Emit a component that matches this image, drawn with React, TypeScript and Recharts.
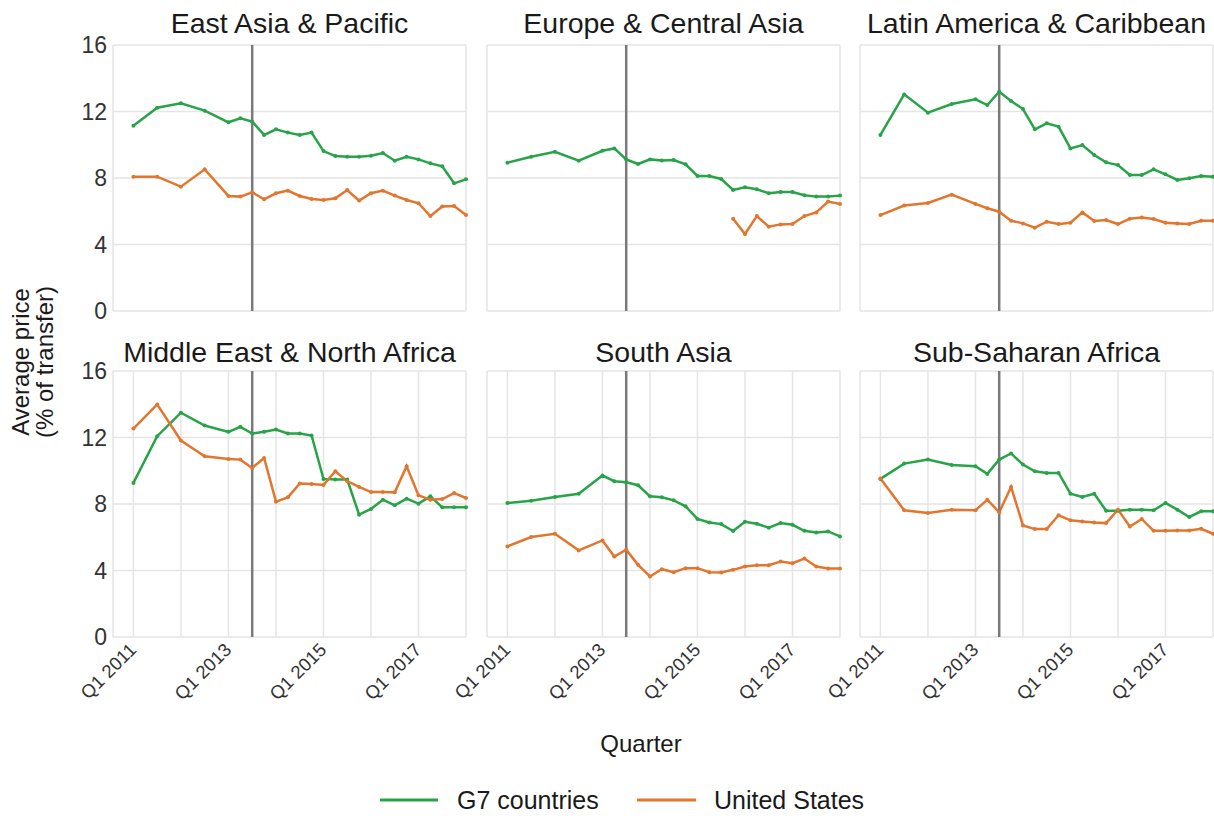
import { LineChart, Line, XAxis, YAxis, CartesianGrid, ReferenceLine } from 'recharts';

// quarters observed (half-yearly until 2013, then quarterly)
const quarters = [
  '2011 Q1', '2011 Q3', '2012 Q1', '2012 Q3', '2013 Q1', '2013 Q2', '2013 Q3', '2013 Q4',
  '2014 Q1', '2014 Q2', '2014 Q3', '2014 Q4', '2015 Q1', '2015 Q2', '2015 Q3', '2015 Q4',
  '2016 Q1', '2016 Q2', '2016 Q3', '2016 Q4', '2017 Q1', '2017 Q2', '2017 Q3', '2017 Q4',
  '2018 Q1',
];

const yearTicks = ['2011 Q1', '2012 Q1', '2013 Q1', '2014 Q1', '2015 Q1', '2016 Q1', '2017 Q1', '2018 Q1'];
const labelledYears = ['2011', '2013', '2015', '2017'];
const yTicks = [0, 4, 8, 12, 16];
const markerQuarter = '2013 Q3';

const regions = [
  'East Asia & Pacific', 'Europe & Central Asia', 'Latin America & Caribbean',
  'Middle East & North Africa', 'South Asia', 'Sub-Saharan Africa',
];

const g7EastAsia = [11.15, 12.23, 12.49, 12.05, 11.35, 11.59, 11.39, 10.59, 10.93, 10.73, 10.59, 10.73, 9.62, 9.32, 9.28, 9.28, 9.34, 9.5, 9.04, 9.28, 9.12, 8.88, 8.7, 7.68, 7.92];
const usEastAsia = [8.08, 8.08, 7.48, 8.52, 6.92, 6.88, 7.14, 6.72, 7.08, 7.24, 6.92, 6.74, 6.68, 6.78, 7.28, 6.64, 7.08, 7.24, 6.94, 6.68, 6.48, 5.71, 6.28, 6.32, 5.77];

const g7Europe = [8.92, 9.28, 9.58, 9.04, 9.64, 9.78, 9.12, 8.84, 9.12, 9.06, 9.08, 8.82, 8.12, 8.12, 7.94, 7.28, 7.44, 7.32, 7.08, 7.16, 7.16, 6.96, 6.88, 6.88, 6.94];
const usEurope = [null, null, null, null, null, null, null, null, null, null, null, null, null, null, null, 5.55, 4.63, 5.71, 5.07, 5.21, 5.23, 5.71, 5.93, 6.58, 6.44];

const g7Latam = [10.59, 13.03, 11.93, 12.45, 12.73, 12.39, 13.19, 12.63, 12.15, 10.93, 11.29, 11.09, 9.78, 9.98, 9.38, 8.94, 8.78, 8.18, 8.18, 8.52, 8.22, 7.88, 7.98, 8.12, 8.08];
const usLatam = [5.77, 6.34, 6.5, 7.0, 6.44, 6.18, 5.97, 5.43, 5.27, 5.01, 5.37, 5.23, 5.31, 5.93, 5.41, 5.47, 5.23, 5.55, 5.63, 5.53, 5.31, 5.27, 5.23, 5.43, 5.43];

const g7Mena = [9.27, 12.08, 13.49, 12.72, 12.34, 12.64, 12.24, 12.34, 12.48, 12.24, 12.24, 12.12, 9.51, 9.47, 9.47, 7.36, 7.7, 8.26, 7.92, 8.32, 8.02, 8.46, 7.8, 7.8, 7.8];
const usMena = [12.54, 13.99, 11.82, 10.87, 10.71, 10.67, 10.17, 10.77, 8.14, 8.4, 9.23, 9.21, 9.15, 9.97, 9.37, 9.03, 8.72, 8.72, 8.7, 10.27, 8.52, 8.26, 8.3, 8.66, 8.36];

const g7SouthAsia = [8.06, 8.2, 8.42, 8.62, 9.71, 9.37, 9.31, 9.13, 8.46, 8.4, 8.22, 7.86, 7.1, 6.89, 6.79, 6.37, 6.93, 6.81, 6.57, 6.85, 6.75, 6.39, 6.29, 6.35, 6.05];
const usSouthAsia = [5.45, 6.01, 6.21, 5.21, 5.81, 4.84, 5.25, 4.34, 3.64, 4.08, 3.9, 4.14, 4.14, 3.9, 3.88, 4.04, 4.24, 4.32, 4.32, 4.54, 4.44, 4.72, 4.24, 4.12, 4.12];

const g7Ssa = [9.51, 10.43, 10.67, 10.35, 10.27, 9.81, 10.67, 11.04, 10.37, 9.97, 9.87, 9.87, 8.62, 8.42, 8.62, 7.6, 7.6, 7.66, 7.66, 7.62, 8.06, 7.66, 7.22, 7.56, 7.56];
const usSsa = [9.53, 7.62, 7.46, 7.66, 7.62, 8.26, 7.5, 9.03, 6.71, 6.49, 6.49, 7.32, 7.02, 6.95, 6.89, 6.85, 7.66, 6.65, 7.1, 6.39, 6.39, 6.41, 6.41, 6.51, 6.21];

const g7Series = [g7EastAsia, g7Europe, g7Latam, g7Mena, g7SouthAsia, g7Ssa];
const usSeries = [usEastAsia, usEurope, usLatam, usMena, usSouthAsia, usSsa];

const GREEN = '#27a348';
const ORANGE = '#e3762f';
const FONT = '"Liberation Sans", Arial, sans-serif';

const PLOT_W = 353;
const PLOT_H = 266;
const PLOT_LEFT = [113, 487, 860];
const PLOT_TOP = [45, 371];
const LEFT_SPACE = 60;
const X_AXIS_H = 80;
const PAD = 15;

const qIndex = (q: string) => {
  const [year, qq] = q.split(' ');
  return (Number(year) - 2011) * 4 + Number(qq.slice(1)) - 1;
};

const tickLabel = (v: number) => {
  const year = String(2011 + Math.floor(v / 4));
  return labelledYears.includes(year) ? `Q1 ${year}` : '';
};

const RotTick = (props: any) => {
  const { x, y, payload } = props;
  const label = tickLabel(payload.value);
  if (!label) return null;
  const ax = x + 4;
  const ay = y + 14;
  return (
    <text x={ax} y={ay} transform={`rotate(-45 ${ax} ${ay})`} textAnchor="end"
      fontSize={18.5} fill="#333" fontFamily={FONT}>
      {label}
    </text>
  );
};

function Panel({ idx }: { idx: number }) {
  const col = idx % 3;
  const row = Math.floor(idx / 3);
  const g7 = g7Series[idx];
  const us = usSeries[idx];
  const data = quarters.map((q, i) => ({ x: qIndex(q), g7: g7[i], us: us[i] }));
  const yW = col === 0 ? LEFT_SPACE : 0;
  const xH = row === 1 ? X_AXIS_H : 0;
  return (
    <div style={{ position: 'absolute', left: PLOT_LEFT[col] - LEFT_SPACE, top: PLOT_TOP[row] - PAD }}>
      <LineChart width={PLOT_W + LEFT_SPACE + 4} height={PAD + PLOT_H + xH + (row === 0 ? PAD : 0)} data={data}
        margin={{ top: PAD, right: 4, bottom: row === 0 ? PAD : 0, left: LEFT_SPACE - yW }}>
        <CartesianGrid stroke="#e5e5e5" strokeWidth={1.5} />
        <XAxis type="number" dataKey="x" domain={[-1.72, 28]} ticks={yearTicks.map(qIndex)}
          interval={0} height={xH} axisLine={false} tickLine={false} tickSize={0} tickMargin={0}
          tick={row === 1 ? <RotTick /> : false} />
        <YAxis type="number" domain={[0, 16]} ticks={yTicks} interval={0} width={yW}
          hide={col !== 0} axisLine={false} tickLine={false} tickSize={0} tickMargin={6}
          tick={{ fontSize: 23, fill: '#333', fontFamily: FONT }} />
        <Line type="linear" dataKey="g7" stroke={GREEN} strokeWidth={2.5}
          dot={{ r: 2, fill: GREEN, stroke: GREEN, strokeWidth: 0 }} isAnimationActive={false} />
        <Line type="linear" dataKey="us" stroke={ORANGE} strokeWidth={2.5}
          dot={{ r: 2, fill: ORANGE, stroke: ORANGE, strokeWidth: 0 }} isAnimationActive={false} />
        <ReferenceLine x={qIndex(markerQuarter)} stroke="#7a7a7a" strokeWidth={2.5} />
      </LineChart>
    </div>
  );
}

export default function App() {
  return (
    <div style={{ position: 'absolute', left: 0, top: 0, width: 1214, height: 818, overflow: 'hidden', background: '#fff' }}>
      {regions.map((_, i) => <Panel key={i} idx={i} />)}
      <svg width={1214} height={818} style={{ position: 'absolute', left: 0, top: 0, pointerEvents: 'none' }}
        fontFamily={FONT}>
        {regions.map((name, i) => (
          <text key={name} x={PLOT_LEFT[i % 3] + PLOT_W / 2} y={i < 3 ? 33 : 362}
            textAnchor="middle" fontSize={28.5} fill="#1a1a1a">{name}</text>
        ))}
        <g transform="translate(0 362) rotate(-90)">
          <text x={0} y={29} textAnchor="middle" fontSize={24} fill="#1a1a1a">Average price</text>
          <text x={0} y={53} textAnchor="middle" fontSize={24} fill="#1a1a1a">(% of transfer)</text>
        </g>
        <text x={641} y={752} textAnchor="middle" fontSize={24} fill="#1a1a1a">Quarter</text>
        <line x1={380} x2={438} y1={800} y2={800} stroke={GREEN} strokeWidth={3} />
        <text x={457} y={808.5} fontSize={25} fill="#1a1a1a">G7 countries</text>
        <line x1={637} x2={696} y1={800} y2={800} stroke={ORANGE} strokeWidth={3} />
        <text x={714} y={808.5} fontSize={25} fill="#1a1a1a">United States</text>
      </svg>
    </div>
  );
}
